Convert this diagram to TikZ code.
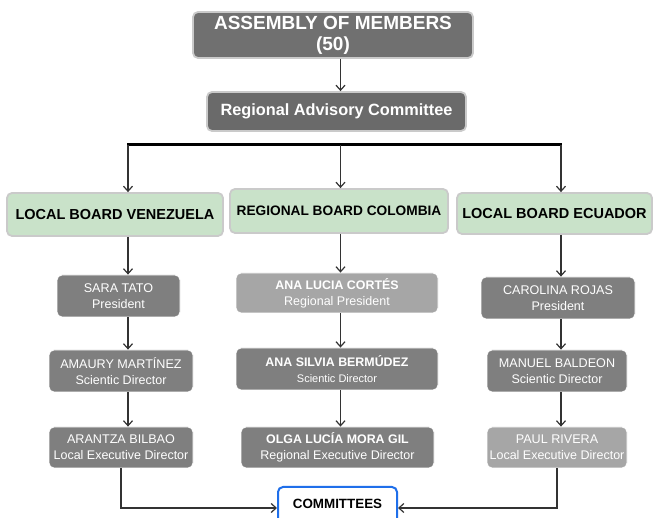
\documentclass[tikz,border=0pt]{standalone}
\usepackage{fontspec}
\setmainfont{Liberation Sans}
\usetikzlibrary{positioning, arrows.meta}

\definecolor{boxdark}{HTML}{7F7F7F}
\definecolor{boxtop}{HTML}{707070}
\definecolor{boxlight}{HTML}{A6A6A6}
\definecolor{boardgreen}{HTML}{C9E2C9}
\definecolor{edgegray}{HTML}{CACACA}
\definecolor{commblue}{HTML}{1F6FEA}
\definecolor{linegray}{HTML}{333333}

\newcommand{\rolefont}{\fontsize{12.5}{16}\selectfont}
\newcommand{\smallrole}{\fontsize{11}{16}\selectfont}

\begin{document}
\begin{tikzpicture}[
    x=1pt, y=-1pt,
    box/.style={draw=edgegray, line width=1.8pt, rounded corners=5pt, align=center, inner sep=0pt},
    head/.style={box, fill=boxtop, text=white, font=\bfseries},
    board/.style={box, fill=boardgreen, text=black, font=\fontsize{14.5}{17}\selectfont\bfseries},
    person/.style={box, draw=white, line width=0.8pt, fill=boxdark, text=white, font=\fontsize{12.6}{16}\selectfont},
    faded/.style={person, fill=boxlight},
    arrow/.style={draw=linegray, line width=1.2pt, -{Straight Barb[length=5pt, width=9pt, line width=1.2pt]}},
    bar/.style={draw=black, line width=3pt}
]
\clip (0,0) rectangle (654,518);
\fill[white] (0,0) rectangle (654,518);

% Top of the chart
\node[head, minimum width=280, minimum height=46, font=\fontsize{19}{21}\selectfont\bfseries]
    (assembly) at (333,35) {ASSEMBLY OF MEMBERS\\(50)};
\node[head, minimum width=259, minimum height=39, fill=boxtop!95!black, font=\fontsize{16.3}{19}\selectfont\bfseries]
    (advisory) at (336.5,111.5) {Regional Advisory Committee};

% Column axes (x positions of the arrows)
\coordinate (colA) at (128,145);
\coordinate (colB) at (340.5,145);
\coordinate (colC) at (561,145);

% Boards
\node[board, minimum width=216, minimum height=43] (venezuela) at (115,214.5) {LOCAL BOARD VENEZUELA};
\node[board, minimum width=218, minimum height=44, font=\fontsize{13.7}{17}\selectfont\bfseries]
    (colombia) at (339,211) {REGIONAL BOARD COLOMBIA};
\node[board, minimum width=195, minimum height=41] (ecuador) at (554.5,213.5) {LOCAL BOARD ECUADOR};

% Venezuela
\node[person, minimum width=123, minimum height=42] (sara) at (118.5,296) {SARA TATO\\{\rolefont President}};
\node[person, minimum width=144, minimum height=42] (amaury) at (121,371) {AMAURY MARTÍNEZ\\{\rolefont Scientic Director}};
\node[person, minimum width=144, minimum height=41] (arantza) at (121,447.5) {ARANTZA BILBAO\\{\rolefont Local Executive Director}};

% Colombia
\node[faded, minimum width=202, minimum height=40, font=\fontsize{12.4}{16}\selectfont\bfseries]
    (analucia) at (337,293) {ANA LUCIA CORTÉS\\{\rolefont\mdseries Regional President}};
\node[person, minimum width=202, minimum height=42, font=\fontsize{12.4}{16}\selectfont\bfseries]
    (anasilvia) at (337,369) {ANA SILVIA BERMÚDEZ\\{\smallrole\mdseries Scientic Director}};
\node[person, minimum width=193, minimum height=41, font=\fontsize{12.4}{16}\selectfont\bfseries]
    (olga) at (337.5,447.5) {OLGA LUCÍA MORA GIL\\{\rolefont\mdseries Regional Executive Director}};

% Ecuador
\node[person, minimum width=154, minimum height=42] (carolina) at (558,298) {CAROLINA ROJAS\\{\rolefont President}};
\node[person, minimum width=140, minimum height=42] (manuel) at (557,371) {MANUEL BALDEON\\{\rolefont Scientic Director}};
\node[faded, minimum width=140, minimum height=41] (paul) at (557,447.5) {PAUL RIVERA\\{\rolefont Local Executive Director}};

% Committees (runs off the bottom edge)
\node[box, draw=commblue, line width=2pt, fill=white, minimum width=119, minimum height=46,
      font=\fontsize{13.4}{16}\selectfont\bfseries, text=black, text depth=12pt]
    (committees) at (337.5,510) {COMMITTEES};
\coordinate (feed) at (0,508);

% Connectors
\draw[arrow] (assembly.south -| colB) -- (advisory.north -| colB);
\draw[bar] ([xshift=-0.6pt]colA) -- ([xshift=0.6pt]colC);
\draw[arrow] (colA) -- (venezuela.north -| colA);
\draw[arrow] (colB) -- (colombia.north -| colB);
\draw[arrow] (colC) -- (ecuador.north -| colC);

\draw[arrow] (venezuela.south -| colA) -- (sara.north -| colA);
\draw[arrow] (sara.south -| colA) -- (amaury.north -| colA);
\draw[arrow] (amaury.south -| colA) -- (arantza.north -| colA);

\draw[arrow] (colombia.south -| colB) -- (analucia.north -| colB);
\draw[arrow] (analucia.south -| colB) -- (anasilvia.north -| colB);
\draw[arrow] (anasilvia.south -| colB) -- (olga.north -| colB);

\draw[arrow] (ecuador.south -| colC) -- (carolina.north -| colC);
\draw[arrow] (carolina.south -| colC) -- (manuel.north -| colC);
\draw[arrow] (manuel.south -| colC) -- (paul.north -| colC);

\draw[arrow] (arantza.south) -- (arantza.south |- feed) -- (committees.west |- feed);
\draw[arrow] (paul.south) -- (paul.south |- feed) -- (committees.east |- feed);

\end{tikzpicture}
\end{document}
